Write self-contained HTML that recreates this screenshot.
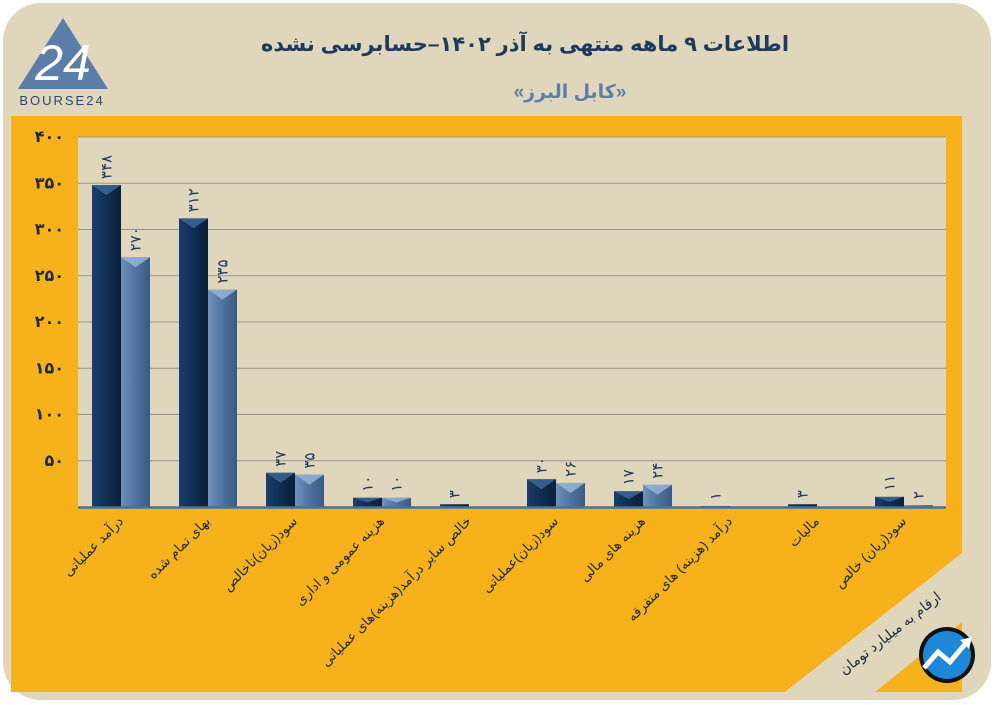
<!DOCTYPE html>
<html><head><meta charset="utf-8">
<style>
html,body{margin:0;padding:0;background:#fff;}
svg{display:block;font-family:"Liberation Sans","DejaVu Sans",sans-serif;}
</style></head>
<body>
<svg id="chart" width="996" height="705" viewBox="0 0 996 705" xmlns="http://www.w3.org/2000/svg">
<defs>
<linearGradient id="gDark" x1="0" x2="1" y1="0" y2="0">
<stop offset="0" stop-color="#1a3f6b"/><stop offset="0.5" stop-color="#0f2d52"/><stop offset="1" stop-color="#0a1f3a"/></linearGradient>
<linearGradient id="gLight" x1="0" x2="1" y1="0" y2="0">
<stop offset="0" stop-color="#6f91ba"/><stop offset="0.5" stop-color="#4f739f"/><stop offset="1" stop-color="#3a5a82"/></linearGradient>
</defs>
<rect x="3" y="3" width="988" height="697" rx="38" fill="#e0d6bc"/>
<g>
<polygon points="18,89 63,18 108,89" fill="#5a7ea8"/>
<text x="63" y="80" font-size="50" fill="#fff" text-anchor="middle" font-style="italic">24</text>
<text x="62" y="105" font-size="13" fill="#2b4a6e" text-anchor="middle" letter-spacing="2">BOURSE24</text>
</g>
<text x="525" y="51" font-size="21" font-weight="bold" fill="#1d3a5f" text-anchor="middle">اطلاعات ۹ ماهه منتهی به آذر ۱۴۰۲–حسابرسی نشده</text>
<text x="570" y="98" font-size="19" font-weight="bold" fill="#5b7fa8" text-anchor="middle">«کابل البرز»</text>
<polygon points="11,116 962,116 962,553 785,692 11,692" fill="#f7b21b"/>
<polygon points="962,622 962,692 875,692" fill="#f7b21b"/>
<rect x="78" y="137" width="868" height="370" fill="#e0d6bc"/>
<g id="grid"></g><g id="bars"></g><g id="labels"></g>
<line x1="78" y1="507.5" x2="946" y2="507.5" stroke="#4a6f9a" stroke-width="2.5"/>
<text transform="translate(893,637) rotate(-38)" font-size="14" fill="#1d2a3a" text-anchor="middle">ارقام به میلیارد تومان</text>
<g>
<circle cx="947" cy="655" r="28" fill="#111"/>
<circle cx="947" cy="655" r="24" fill="#1e88d8"/>
<polyline points="924,668 938,652 950,662 966,643" fill="none" stroke="#fff" stroke-width="5"/>
<polygon points="960,640 972,637 969,649" fill="#fff"/>
</g>
</svg>
<script>
const categories=["درآمد عملیاتی","بهای تمام شده","سود(زیان)ناخالص","هزینه عمومی و اداری","خالص سایر درآمد(هزینه)های عملیاتی","سود(زیان)عملیاتی","هزینه های مالی","درآمد (هزینه) های متفرقه","مالیات","سود(زیان) خالص"];
const seriesDark=[348,312,37,10,3,30,17,1,3,11];
const seriesLight=[270,235,35,10,0,26,24,0,0,2];
const yTicks=[50,100,150,200,250,300,350,400];
const NS="http://www.w3.org/2000/svg";
const y0=507,yTop=137,vMax=400,x0=121,step=87,bw=29;
function yS(v){return y0-(v/vMax)*(y0-yTop);}
function xC(i){return x0+i*step;}
function fa(n){return String(n).replace(/\d/g,d=>"۰۱۲۳۴۵۶۷۸۹"[d]);}
function mk(tag,attrs,parent){const e=document.createElementNS(NS,tag);for(const k in attrs)e.setAttribute(k,attrs[k]);parent.appendChild(e);return e;}
const grid=document.getElementById('grid'),bars=document.getElementById('bars'),labels=document.getElementById('labels');
yTicks.forEach(t=>{
 const l=mk('line',{x1:78,x2:946,y1:yS(t),y2:yS(t),stroke:'#9a958a','stroke-width':1},grid);
 
 
 const tx=mk('text',{x:64,y:yS(t)+5,'font-size':16,'font-weight':'bold',fill:'#1d2a3a','text-anchor':'end'},grid);
 tx.textContent=fa(t);
 
 
});
function drawBar(v,x,grad,top,name){
 if(v<=0)return;
 const y=yS(v),h=y0-y;
 const r=mk('rect',{x:x,y:y,width:bw,height:h,fill:grad},bars);
 
 
 if(h>6){const p=mk('polygon',{points:`${x},${y} ${x+bw},${y} ${x+bw/2},${y+Math.min(10,h/2)}`,fill:top,opacity:0.8},bars);
 
 }
 const t=mk('text',{transform:`translate(${x+bw/2+5},${y-6}) rotate(-90)`,'font-size':15,fill:'#1d3a5f','text-anchor':'start'},labels);
 t.textContent=fa(v);
 
 
}
categories.forEach((c,i)=>{
 const cx=xC(i);
 drawBar(seriesDark[i],cx-bw,'url(#gDark)','#3d6a9a','bar-dark');
 drawBar(seriesLight[i],cx,'url(#gLight)','#9bb8da','bar-light');
 const t=mk('text',{transform:`translate(${cx+3},${522}) rotate(-45)`,'font-size':13.5,fill:'#1d2a3a','text-anchor':'end'},labels);
 t.textContent=c;
 
 
});
</script>
</body></html>
